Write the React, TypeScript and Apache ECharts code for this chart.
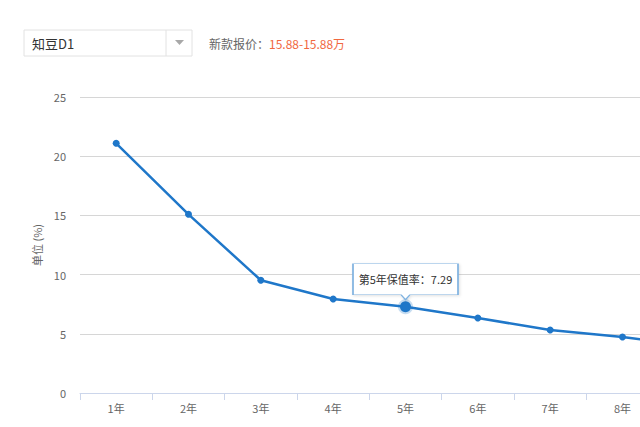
import { useEffect, useRef } from 'react';
import * as echarts from 'echarts';

// 保值率数据
const years = ['1年', '2年', '3年', '4年', '5年', '6年', '7年', '8年', '9年'];
const retention = [21.09, 15.09, 9.52, 7.94, 7.29, 6.33, 5.32, 4.73, 3.91];
const highlightIndex = 4;

const modelName = '知豆D1';
const priceLabel = '新款报价：';
const priceRange = '15.88-15.88万';

const FONT = '"Noto Sans CJK SC", "Microsoft YaHei", sans-serif';
const LINE_COLOR = '#1f77c9';

export default function App() {
  const chartRef = useRef<HTMLDivElement>(null);

  useEffect(() => {
    if (!chartRef.current) return;
    const chart = echarts.init(chartRef.current, undefined, { renderer: 'svg' });

    const option: echarts.EChartsOption = {
      animation: false,
      textStyle: { fontFamily: FONT },
      grid: { left: 80, right: 29, top: 97, bottom: 34 },
      graphic: [
        // 车型选择框
        {
          type: 'rect',
          shape: { x: 24, y: 30, width: 168, height: 26 },
          style: { fill: '#fff', stroke: '#e2e2e2', lineWidth: 1 },
        },
        {
          type: 'line',
          shape: { x1: 166, y1: 30, x2: 166, y2: 56 },
          style: { stroke: '#e2e2e2', lineWidth: 1 },
        },
        {
          type: 'polygon',
          shape: { points: [[175, 40], [184, 40], [179.5, 45]] },
          style: { fill: '#a8a8a8' },
        },
        {
          type: 'text',
          x: 32,
          y: 43,
          style: { text: modelName, fill: '#333', font: `13px ${FONT}`, verticalAlign: 'middle' },
        },
        {
          type: 'text',
          x: 209,
          y: 43,
          style: { text: priceLabel, fill: '#666', font: `12px ${FONT}`, verticalAlign: 'middle' },
        },
        {
          type: 'text',
          x: 269,
          y: 43,
          style: { text: priceRange, fill: '#f1683f', font: `12px ${FONT}`, verticalAlign: 'middle' },
        },
      ],
      xAxis: {
        type: 'category',
        data: years,
        boundaryGap: true,
        axisLine: { lineStyle: { color: '#ccd6eb', width: 1 } },
        axisTick: { show: true, length: 7, lineStyle: { color: '#ccd6eb' } },
        axisLabel: {
          color: '#666',
          fontSize: 11,
          margin: 9,
          // 最后一个类目在可视区域之外
          interval: (i: number) => i < years.length - 1,
        },
        splitLine: { show: false },
      },
      yAxis: {
        type: 'value',
        min: 0,
        max: 25,
        interval: 5,
        name: '单位 (%)',
        nameLocation: 'middle',
        nameGap: 36,
        nameTextStyle: { color: '#666', fontSize: 11 },
        axisLine: { show: false },
        axisTick: { show: false },
        axisLabel: { color: '#666', fontSize: 11, margin: 14 },
        splitLine: { lineStyle: { color: '#d6d6d6', width: 1 } },
      },
      series: [
        {
          type: 'line',
          data: retention.map((v, i) =>
            i === highlightIndex
              ? {
                  value: v,
                  symbolSize: 11,
                  itemStyle: { color: LINE_COLOR, borderColor: 'rgba(31,119,201,0.25)', borderWidth: 4 },
                }
              : v
          ),
          symbol: 'circle',
          symbolSize: 7,
          showAllSymbol: true,
          lineStyle: { color: LINE_COLOR, width: 2.5 },
          itemStyle: { color: LINE_COLOR },
          markPoint: {
            symbol: 'path://M0,0 H105 V31 H57 L52.5,36 L48,31 H0 Z',
            symbolSize: [105, 36],
            symbolOffset: [0, -25],
            itemStyle: {
              color: '#fff',
              borderColor: '#7fb2e0',
              borderWidth: 1,
              shadowColor: 'rgba(0,0,0,0.12)',
              shadowBlur: 3,
              shadowOffsetX: 1,
              shadowOffsetY: 1,
            },
            label: {
              show: true,
              position: 'inside',
              offset: [0, -2.5],
              color: '#333',
              fontSize: 11,
              formatter: (p: any) => `第${highlightIndex + 1}年保值率：${p.value}`,
            },
            data: [{ coord: [years[highlightIndex], retention[highlightIndex]], value: retention[highlightIndex] }],
          },
        },
      ],
    };

    chart.setOption(option);
    return () => chart.dispose();
  }, []);

  return (
    <div style={{ position: 'fixed', left: 0, top: 0, width: 640, height: 427, overflow: 'hidden', background: '#fff' }}>
      <div ref={chartRef} style={{ width: 760, height: 427 }} />
    </div>
  );
}
